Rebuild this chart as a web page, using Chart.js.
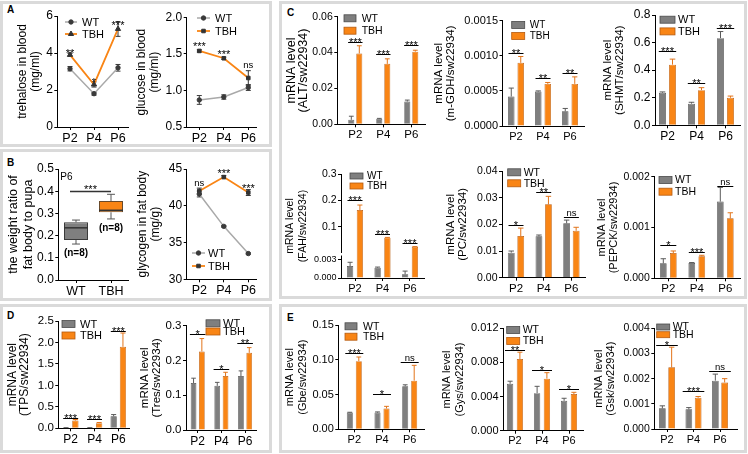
<!DOCTYPE html>
<html><head><meta charset="utf-8">
<script src="https://cdn.jsdelivr.net/npm/chart.js@4.4.1/dist/chart.umd.min.js"></script>
<style>
html,body{margin:0;padding:0;background:#fff}
body{position:relative;width:748px;height:454px;overflow:hidden;font-family:"Liberation Sans",Arial,sans-serif}
.box{position:absolute;border:3px solid #dadada;box-sizing:border-box}
.tag{position:absolute;font-weight:bold;font-size:10px;line-height:10px;color:#000}
canvas{position:absolute}
</style></head><body>
<div class="box" style="left:0;top:1px;width:272px;height:146px"></div>
<div class="box" style="left:0;top:149px;width:272px;height:152px"></div>
<div class="box" style="left:0;top:304px;width:272px;height:149px"></div>
<div class="box" style="left:279px;top:1px;width:468px;height:298px"></div>
<div class="box" style="left:279px;top:304px;width:468px;height:149px"></div>
<div class="tag" style="left:7px;top:5px">A</div>
<div class="tag" style="left:7px;top:158px">B</div>
<div class="tag" style="left:7px;top:311px">D</div>
<div class="tag" style="left:287px;top:8px">C</div>
<div class="tag" style="left:287px;top:313px">E</div>
<script>
const stages=['P2','P4','P6'];
const genotypes=['WT','TBH'];

// A: sugars in blood
const trehWT=[3.15,1.8,3.2], trehWTErr=[0.12,0.08,0.18];
const trehTBH=[3.9,2.3,5.3], trehTBHErr=[0.08,0.14,0.4];
const trehSig=['**','*','***'];
const gluWT=[0.87,0.91,1.04], gluWTErr=[0.06,0.03,0.04];
const gluTBH=[1.54,1.44,1.17], gluTBHErr=[0.015,0.015,0.1];
const gluSig=['***','***','ns'];

// B: fat body
const ratioQ1=[0.18,0.305], ratioQ3=[0.26,0.356], ratioMed=[0.235,0.314];
const ratioMin=[0.162,0.275], ratioMax=[0.27,0.386];
const ratioN=['(n=8)','(n=8)'];
const ratioSig='***', ratioSigLevel=0.4;
const glyWT=[41.6,37.2,33.5], glyWTErr=[0.4,0.1,0.1];
const glyTBH=[42.0,43.9,41.8], glyTBHErr=[0.4,0.2,0.4];
const glySig=['ns','***','***'];

// C: mRNA levels
const altWT=[0.0025,0.003,0.0127], altWTErr=[0.002,0.0003,0.0008];
const altTBH=[0.0395,0.0337,0.0405], altTBHErr=[0.0043,0.0028,0.0008];
const altSig=['***','***','***'];
const gdhWT=[0.00042,0.00049,0.00021], gdhWTErr=[0.00012,0.00001,0.00004];
const gdhTBH=[0.0009,0.0006,0.0006], gdhTBHErr=[0.00009,0.00002,0.0001];
const gdhSig=['**','**','**'];
const shmtWT=[0.236,0.157,0.632], shmtWTErr=[0.006,0.01,0.048];
const shmtTBH=[0.44,0.255,0.2], shmtTBHErr=[0.04,0.018,0.012];
const shmtSig=['***','**','***'];
const fahWT=[0.0019,0.00164,0.0006], fahWTErr=[0.0006,0.0001,0.0005];
const fahTBH=[0.163,0.058,0.023], fahTBHErr=[0.019,0.001,0.001];
const fahSig=['***','***','***'];
const fahTicks=[0,0.003,0.1,0.2,0.3];
const pcWT=[0.0094,0.0155,0.0204], pcWTErr=[0.0006,0.0005,0.0012];
const pcTBH=[0.0156,0.0275,0.0176], pcTBHErr=[0.003,0.003,0.0013];
const pcSig=['*','**','ns'];
const pepckWT=[0.000295,0.0003,0.00151], pepckWTErr=[0.00009,0.00001,0.00028];
const pepckTBH=[0.000498,0.000433,0.00118], pepckTBHErr=[0.00004,0.00002,0.00011];
const pepckSig=['*','***','ns'];

// D: trehalose genes
const tpsWT=[0.01,0.01,0.28], tpsWTErr=[0.005,0.005,0.04];
const tpsTBH=[0.18,0.12,1.9], tpsTBHErr=[0.025,0.015,0.32];
const tpsSig=['***','***','***'];
const tresWT=[0.135,0.127,0.155], tresWTErr=[0.014,0.01,0.015];
const tresTBH=[0.226,0.155,0.222], tresTBHErr=[0.037,0.011,0.015];
const tresSig=['*','*','**'];

// E: glycogen genes
const gbeWT=[0.024,0.024,0.062], gbeWTErr=[0.0005,0.001,0.002];
const gbeTBH=[0.098,0.03,0.07], gbeTBHErr=[0.006,0.003,0.022];
const gbeSig=['***','*','ns'];
const gysWT=[0.0055,0.0044,0.0035], gysWTErr=[0.0003,0.0008,0.0003];
const gysTBH=[0.0084,0.0061,0.0043], gysTBHErr=[0.0008,0.0007,0.0002];
const gysSig=['**','*','*'];
const gskWT=[0.00082,0.00078,0.00192], gskWTErr=[0.0001,0.00007,0.00026];
const gskTBH=[0.00245,0.00124,0.00185], gskTBHErr=[0.0008,0.00005,0.00015];
const gskSig=['*','***','ns'];

const FONT='"Liberation Sans", Arial, sans-serif';
const ORANGE='#f98515', GRAY='#7f7f7f';

function drawSig(ctx,t,x,yb,size){
  const isStar=t.indexOf('*')>=0;
  ctx.font=(isStar?size:size-1.5)+'px '+FONT;
  ctx.textAlign='center'; ctx.textBaseline='alphabetic';
  ctx.fillText(t,x,isStar?yb+size*0.45:yb);
}

const deco={
  id:'deco',
  beforeDatasetsDraw(chart){
    const ctx=chart.ctx, ys=chart.scales.y, line=chart.config.type==='line';
    ctx.save();
    chart.data.datasets.forEach((ds,di)=>{
      if(!ds.errs) return;
      const meta=chart.getDatasetMeta(di);
      ctx.strokeStyle=ds.errColor; ctx.lineWidth=1;
      meta.data.forEach((el,i)=>{
        const v=ds.data[i].y, e=ds.errs[i], x=el.x;
        const yt=ys.getPixelForValue(v+e);
        const yb=line?ys.getPixelForValue(v-e):el.y;
        const cw=line?2.5:el.width*0.4;
        ctx.beginPath();
        ctx.moveTo(x,yb); ctx.lineTo(x,yt);
        ctx.moveTo(x-cw,yt); ctx.lineTo(x+cw,yt);
        if(line){ctx.moveTo(x-cw,yb); ctx.lineTo(x+cw,yb);}
        ctx.stroke();
      });
    });
    ctx.restore();
  },
  afterDraw(chart,args,o){
    const ctx=chart.ctx, ca=chart.chartArea, xs=chart.scales.x, ys=chart.scales.y;
    const dsets=chart.data.datasets, line=chart.config.type==='line';
    ctx.save();
    ctx.fillStyle='#000'; ctx.strokeStyle='#000'; ctx.lineWidth=1;
    if(o.sig){
      o.sig.forEach((t,i)=>{
        const x=xs.getPixelForValue(i);
        let top=Infinity;
        dsets.forEach(ds=>{
          const v=ds.data[i].y, e=ds.errs?ds.errs[i]:0;
          top=Math.min(top,ys.getPixelForValue(v+e));
          if(line) top=Math.min(top,ys.getPixelForValue(v)-3);
        });
        const gap=Array.isArray(o.gap)?o.gap[i]:o.gap;
        let yb=top-gap;
        if(o.sw){
          yb=Math.round(yb)+0.5;
          ctx.beginPath(); ctx.moveTo(x-o.sw,yb); ctx.lineTo(x+o.sw,yb); ctx.stroke();
          yb-=1.5;
        }
        ctx.fillStyle='#000';
        drawSig(ctx,t,x,yb,11);
      });
    }
    if(o.leg){
      const L=o.leg;
      dsets.forEach((ds,i)=>{
        const x=ca.left+L.dx, y=ca.top+L.dy+i*L.sp;
        if(!line){
          ctx.fillStyle=ds.backgroundColor; ctx.fillRect(x,y-L.bh/2,L.bw,L.bh);
          ctx.strokeStyle=ds.borderColor; ctx.lineWidth=0.8; ctx.strokeRect(x,y-L.bh/2,L.bw,L.bh);
        }else{
          ctx.strokeStyle=ds.borderColor; ctx.lineWidth=ds.borderWidth;
          ctx.beginPath(); ctx.moveTo(x,y); ctx.lineTo(x+L.bw,y); ctx.stroke();
          ctx.fillStyle=ds.pointBackgroundColor; ctx.strokeStyle=ds.pointBorderColor; ctx.lineWidth=1;
          Chart.helpers.drawPoint(ctx,{pointStyle:ds.pointStyle,radius:ds.pointRadius,rotation:0,borderWidth:1},x+L.bw/2,y);
        }
        ctx.fillStyle='#000'; ctx.font=L.f+'px '+FONT;
        ctx.textAlign='left'; ctx.textBaseline='middle';
        ctx.fillText(ds.label,x+L.bw+L.tg,y+0.5);
      });
    }
    if(o.box){
      const ds=dsets[0], meta=chart.getDatasetMeta(0);
      meta.data.forEach((el,i)=>{
        const x=el.x, hw=el.width/2;
        const q1=ys.getPixelForValue(ds.data[i].y[0]), q3=ys.getPixelForValue(ds.data[i].y[1]);
        const lo=ys.getPixelForValue(ds.whisk[i][0]), hi=ys.getPixelForValue(ds.whisk[i][1]);
        const pm=ys.getPixelForValue(ds.median[i]);
        ctx.strokeStyle='#555'; ctx.lineWidth=1;
        ctx.beginPath();
        ctx.moveTo(x,q3); ctx.lineTo(x,hi); ctx.moveTo(x-hw*0.33,hi); ctx.lineTo(x+hw*0.33,hi);
        ctx.moveTo(x,q1); ctx.lineTo(x,lo); ctx.moveTo(x-hw*0.33,lo); ctx.lineTo(x+hw*0.33,lo);
        ctx.stroke();
        ctx.strokeStyle='#333'; ctx.lineWidth=1.5;
        ctx.beginPath(); ctx.moveTo(x-hw,pm); ctx.lineTo(x+hw,pm); ctx.stroke();
        ctx.fillStyle='#000'; ctx.font='bold 10px '+FONT;
        ctx.textAlign='center'; ctx.textBaseline='middle';
        ctx.fillText(ds.nText[i],x,lo+9);
      });
      const yl=Math.round(ys.getPixelForValue(o.box.level))+0.5;
      const x0=xs.getPixelForValue(0)-6, x1=xs.getPixelForValue(1);
      ctx.strokeStyle='#333'; ctx.lineWidth=1.5;
      ctx.beginPath(); ctx.moveTo(x0,yl); ctx.lineTo(x1,yl); ctx.stroke();
      ctx.fillStyle='#000';
      drawSig(ctx,o.box.text,(x0+x1)/2,yl-3,11);
      ctx.font='10px '+FONT; ctx.textAlign='left'; ctx.textBaseline='middle';
      ctx.fillText(o.box.note,ca.left+2,ca.top+8);
    }
    if(o.brk){
      const y1=ys.bottom-ys.options.lowPx, y0=y1-ys.options.gapPx;
      ctx.fillStyle='#fff'; ctx.fillRect(ca.left-2,y0+1,4,ys.options.gapPx-1.5);
    }
    ctx.restore();
  }
};

class BrokenScale extends Chart.LinearScale {
  buildTicks(){ return this.options.tickValues.map(v=>({value:v})); }
  getPixelForValue(v){
    const o=this.options, b=this.bottom;
    if(v<=o.split) return b-v/o.split*o.lowPx;
    const y0=b-o.lowPx-o.gapPx;
    return y0-(v-o.split)/(this.max-o.split)*(y0-this.top);
  }
  getValueForPixel(p){
    const o=this.options, b=this.bottom, y0=b-o.lowPx-o.gapPx;
    return p>=b-o.lowPx?(b-p)/o.lowPx*o.split:o.split+(y0-p)/(y0-this.top)*(this.max-o.split);
  }
}
BrokenScale.id='broken';
BrokenScale.defaults={};
Chart.register(BrokenScale);

function bars(wt,wtErr,tbh,tbhErr,bw,gap,s){
  const cp=2*(bw+gap)/s, bp=bw/(bw+gap);
  return [
    {label:'WT',data:wt.map((v,i)=>({x:i,y:v})),backgroundColor:GRAY,borderColor:'#4a4a4a',borderWidth:0.7,
     categoryPercentage:cp,barPercentage:bp,errs:wtErr,errColor:'#5a5a5a'},
    {label:'TBH',data:tbh.map((v,i)=>({x:i,y:v})),backgroundColor:ORANGE,borderColor:'#b55a10',borderWidth:0.7,
     categoryPercentage:cp,barPercentage:bp,errs:tbhErr,errColor:'#e2741a'}
  ];
}
function lines(wt,wtErr,tbh,tbhErr,tbhStyle){
  return [
    {label:'WT',data:wt.map((v,i)=>({x:i,y:v})),borderColor:'#a9a9a9',borderWidth:1.5,pointStyle:'circle',pointRadius:2.2,
     pointBackgroundColor:'#3a3a3a',pointBorderColor:'#3a3a3a',pointBorderWidth:1,errs:wtErr,errColor:'#3a3a3a'},
    {label:'TBH',data:tbh.map((v,i)=>({x:i,y:v})),borderColor:ORANGE,borderWidth:1.8,pointStyle:tbhStyle,
     pointRadius:tbhStyle==='triangle'?3:2.5,pointBackgroundColor:'#333',pointBorderColor:'#333',pointBorderWidth:1,
     errs:tbhErr,errColor:'#333'}
  ];
}

function make(g,type,datasets,y,d){
  const cl=Math.round(g.t1-g.lh/2), ct=Math.round(g.top)-14;
  const w=Math.ceil(g.right-cl)+8, h=Math.ceil(g.bottom-ct)+20;
  const cv=document.createElement('canvas');
  cv.width=w; cv.height=h; cv.style.left=cl+'px'; cv.style.top=ct+'px';
  document.body.appendChild(cv);
  const cats=g.cats||stages;
  const yOpt=Object.assign({
    afterFit:sc=>{sc.width=g.axisX-cl;},
    ticks:{stepSize:y.step,callback:v=>v.toFixed(y.dec),font:{family:FONT,size:g.yf},color:'#000',padding:1.5},
    grid:{drawOnChartArea:false,tickLength:3,color:'#000'},
    border:{color:'#000',width:1},
    title:{display:true,text:g.title,color:'#000',padding:0,font:{family:FONT,size:g.tf,lineHeight:g.lh+'px'}}
  },y.extra||{},{min:y.min,max:y.max});
  new Chart(cv,{type,data:{datasets},plugins:[deco],
    options:{responsive:false,animation:false,devicePixelRatio:1,events:[],
      layout:{padding:{left:0,top:g.top-ct,right:w-(g.right-cl),bottom:h-(g.bottom-ct)-18}},
      plugins:{legend:{display:false},tooltip:{enabled:false},deco:d},
      scales:{
        x:{type:'linear',offset:false,bounds:'data',min:(g.axisX-g.c0)/g.s,max:(g.right-g.c0)/g.s,
          afterBuildTicks:sc=>{sc.ticks=cats.map((c,i)=>({value:i}));},
          afterFit:sc=>{sc.height=18;},
          ticks:{callback:v=>cats[v],font:{family:FONT,size:g.xf},color:'#000',padding:1,maxRotation:0,autoSkip:false},
          grid:{offset:false,drawOnChartArea:false,tickLength:3,color:'#000'},
          border:{color:'#000',width:1}},
        y:yOpt
      }
    }});
}

const G={
  treh:{axisX:57.3,right:128,top:16,bottom:127,c0:70,s:24,t1:22.8,lh:12.2,tf:12,yf:12,xf:12.5,title:['trehalose in blood','(mg/ml)']},
  glu:{axisX:186.7,right:256,top:17.3,bottom:127,c0:199.3,s:24.5,t1:141.7,lh:13,tf:12,yf:12,xf:12.5,title:['glucose in blood','(mg/ml)']},
  ratio:{axisX:58.3,right:128,top:169,bottom:280,c0:76,s:35,t1:13,lh:15,tf:12.5,yf:12,xf:12.5,title:['the weight ratio of','fat body to pupa'],cats:genotypes},
  gly:{axisX:186.7,right:256,top:169,bottom:279.3,c0:199.3,s:24.5,t1:142.5,lh:13,tf:12,yf:12,xf:12.5,title:['glycogen in fat body','(mg/g)']},
  tps:{axisX:58.3,right:129,top:321,bottom:428.3,c0:70.7,s:23.8,t1:13.3,lh:12,tf:12,yf:11.5,xf:12,title:['mRNA level','(TPS/sw22934)']},
  tres:{axisX:186,right:256,top:325.7,bottom:430,c0:197.7,s:23.7,t1:144.5,lh:12,tf:11.5,yf:11.5,xf:12,title:['mRNA level','(Tres/sw22934)']},
  alt:{axisX:337.3,right:425,top:16.7,bottom:124.3,c0:355.3,s:28,t1:291.5,lh:12.2,tf:12.5,yf:10.5,xf:11.5,title:['mRNA level','(ALT/sw22934)']},
  gdh:{axisX:502.5,right:584,top:20.7,bottom:126,c0:516,s:27,t1:438.5,lh:12,tf:11.5,yf:11,xf:11,title:['mRNA level','(m-GDH/sw22934)']},
  shmt:{axisX:655,right:740,top:15,bottom:125.3,c0:667.5,s:29,t1:608,lh:12,tf:11.5,yf:12,xf:12,title:['mRNA level','(SHMT/sw22934)']},
  fah:{axisX:341,right:424,top:174,bottom:278,c0:355,s:27.5,t1:289.7,lh:13.5,tf:10.5,yf:10.5,xf:11,title:['mRNA level','(FAH/sw22934)']},
  pc:{axisX:502,right:585,top:171,bottom:277.7,c0:516,s:27.7,t1:451,lh:12,tf:11.5,yf:10.5,xf:11.5,title:['mRNA level','(PC/sw22934)']},
  pepck:{axisX:654.3,right:740,top:176.7,bottom:278.3,c0:668.3,s:28.5,t1:601.5,lh:12,tf:11,yf:10.5,xf:11.5,title:['mRNA level','(PEPCK/sw22934)']},
  gbe:{axisX:338.3,right:424,top:325,bottom:429.3,c0:354.3,s:27.7,t1:290,lh:13.5,tf:11,yf:11,xf:11,title:['mRNA level','(Gbe/sw22934)']},
  gys:{axisX:503,right:583,top:328.3,bottom:430.7,c0:515,s:27,t1:447.5,lh:12.5,tf:11,yf:11,xf:11,title:['mRNA level','(Gys/sw22934)']},
  gsk:{axisX:654.3,right:737,top:328.3,bottom:429,c0:667,s:26.5,t1:598.5,lh:12,tf:11,yf:10.5,xf:11,title:['mRNA level','(Gsk/sw22934)']}
};

// A
make(G.treh,'line',lines(trehWT,trehWTErr,trehTBH,trehTBHErr,'triangle'),{min:0,max:6,step:2,dec:0},
  {sig:trehSig,gap:[0,0,-2],sw:0,leg:{dx:7.7,dy:6,sp:12,bw:12,tg:5,f:11}});
make(G.glu,'line',lines(gluWT,gluWTErr,gluTBH,gluTBHErr,'rect'),{min:0.5,max:2,step:0.5,dec:1},
  {sig:gluSig,gap:2.5,sw:0,leg:{dx:10.3,dy:0.7,sp:13,bw:13,tg:5,f:11}});
// B
make(G.ratio,'bar',[{label:'ratio',data:ratioQ1.map((q,i)=>({x:i,y:[q,ratioQ3[i]]})),
  backgroundColor:[GRAY,ORANGE],borderColor:['#3a3a3a','#6a4a2a'],borderWidth:1,borderSkipped:false,
  categoryPercentage:1,barPercentage:24/35,median:ratioMed,whisk:ratioMin.map((m,i)=>[m,ratioMax[i]]),nText:ratioN}],
  {min:0,max:0.5,step:0.1,dec:1},{box:{level:ratioSigLevel,text:ratioSig,note:'P6'}});
make(G.gly,'line',lines(glyWT,glyWTErr,glyTBH,glyTBHErr,'rect'),{min:30,max:45,step:5,dec:0},
  {sig:glySig,gap:2,sw:0,leg:{dx:5.3,dy:84,sp:13,bw:13,tg:3,f:11}});
// D
make(G.tps,'bar',bars(tpsWT,tpsWTErr,tpsTBH,tpsTBHErr,6.3,3,G.tps.s),{min:0,max:2.5,step:0.5,dec:1},
  {sig:tpsSig,gap:[1.5,3.5,2],sw:7.5,leg:{dx:3.7,dy:3,sp:11.5,bw:13,bh:7,tg:5,f:11}});
make(G.tres,'bar',bars(tresWT,tresWTErr,tresTBH,tresTBHErr,5.7,2.6,G.tres.s),{min:0,max:0.3,step:0.1,dec:1},
  {sig:tresSig,gap:[4.2,2.9,4.2],sw:7.8,leg:{dx:20,dy:-2.4,sp:8.2,bw:14,bh:7,tg:3,f:11}});
// C
make(G.alt,'bar',bars(altWT,altWTErr,altTBH,altTBHErr,6,2,G.alt.s),{min:0,max:0.06,step:0.02,dec:2},
  {sig:altSig,gap:[3.4,4.8,5.2],sw:7.2,leg:{dx:6.7,dy:1.6,sp:12.4,bw:12,bh:7,tg:5.7,f:10.5}});
make(G.gdh,'bar',bars(gdhWT,gdhWTErr,gdhTBH,gdhTBHErr,6.5,3,G.gdh.s),{min:0,max:0.0015,step:0.0005,dec:4},
  {sig:gdhSig,gap:4,sw:7.5,leg:{dx:9.2,dy:4.3,sp:11,bw:13,bh:7,tg:5,f:10}});
make(G.shmt,'bar',bars(shmtWT,shmtWTErr,shmtTBH,shmtTBHErr,7,3,G.shmt.s),{min:0,max:0.8,step:0.2,dec:1},
  {sig:shmtSig,gap:[8,5,3.4],sw:8.7,leg:{dx:5,dy:4.7,sp:11.7,bw:15,bh:7,tg:3,f:11}});
make(G.fah,'bar',bars(fahWT,fahWTErr,fahTBH,fahTBHErr,6.3,3.5,G.fah.s),
  {min:0,max:0.3,extra:{type:'broken',split:0.0035,lowPx:22,gapPx:4,tickValues:fahTicks,
    ticks:{callback:v=>v<0.01?v.toFixed(3):v.toFixed(1),
      font:c=>({family:FONT,size:(c.tick&&c.tick.value<0.01)?9:10.5}),color:'#000',padding:1.5}}},
  {sig:fahSig,gap:[5,3.4,3.6],sw:7.5,brk:true,leg:{dx:9,dy:2,sp:10,bw:13,bh:6,tg:4,f:10}});
make(G.pc,'bar',bars(pcWT,pcWTErr,pcTBH,pcTBHErr,6.8,2.7,G.pc.s),{min:0,max:0.04,step:0.01,dec:2},
  {sig:pcSig,gap:[3,4,3.4],sw:7.5,leg:{dx:5.7,dy:1.3,sp:11,bw:13,bh:7,tg:3,f:10.5}});
make(G.pepck,'bar',bars(pepckWT,pepckWTErr,pepckTBH,pepckTBHErr,6.7,3.3,G.pepck.s),{min:0,max:0.002,step:0.001,dec:3},
  {sig:pepckSig,gap:[6,3,1.7],sw:8,leg:{dx:4.7,dy:3.3,sp:11.7,bw:13,bh:7,tg:3,f:10.5}});
// E
make(G.gbe,'bar',bars(gbeWT,gbeWTErr,gbeTBH,gbeTBHErr,6,3,G.gbe.s),{min:0,max:0.15,step:0.05,dec:2},
  {sig:gbeSig,gap:[3.6,12,3.6],sw:9,leg:{dx:6.7,dy:1.3,sp:10.4,bw:12,bh:7,tg:6,f:10.5}});
make(G.gys,'bar',bars(gysWT,gysWTErr,gysTBH,gysTBHErr,6.3,3.5,G.gys.s),{min:0,max:0.012,step:0.004,dec:3},
  {sig:gysSig,gap:[2.3,2.7,3.6],sw:10,leg:{dx:3.7,dy:1.7,sp:11,bw:13,bh:7,tg:3,f:10.5}});
make(G.gsk,'bar',bars(gskWT,gskWTErr,gskTBH,gskTBHErr,6.7,2.6,G.gsk.s),{min:0,max:0.004,step:0.001,dec:3},
  {sig:gskSig,gap:[2,6,2.7],sw:10.8,leg:{dx:2.4,dy:-1.3,sp:7.7,bw:13,bh:6,tg:3,f:10.5}});
</script>
</body></html>
